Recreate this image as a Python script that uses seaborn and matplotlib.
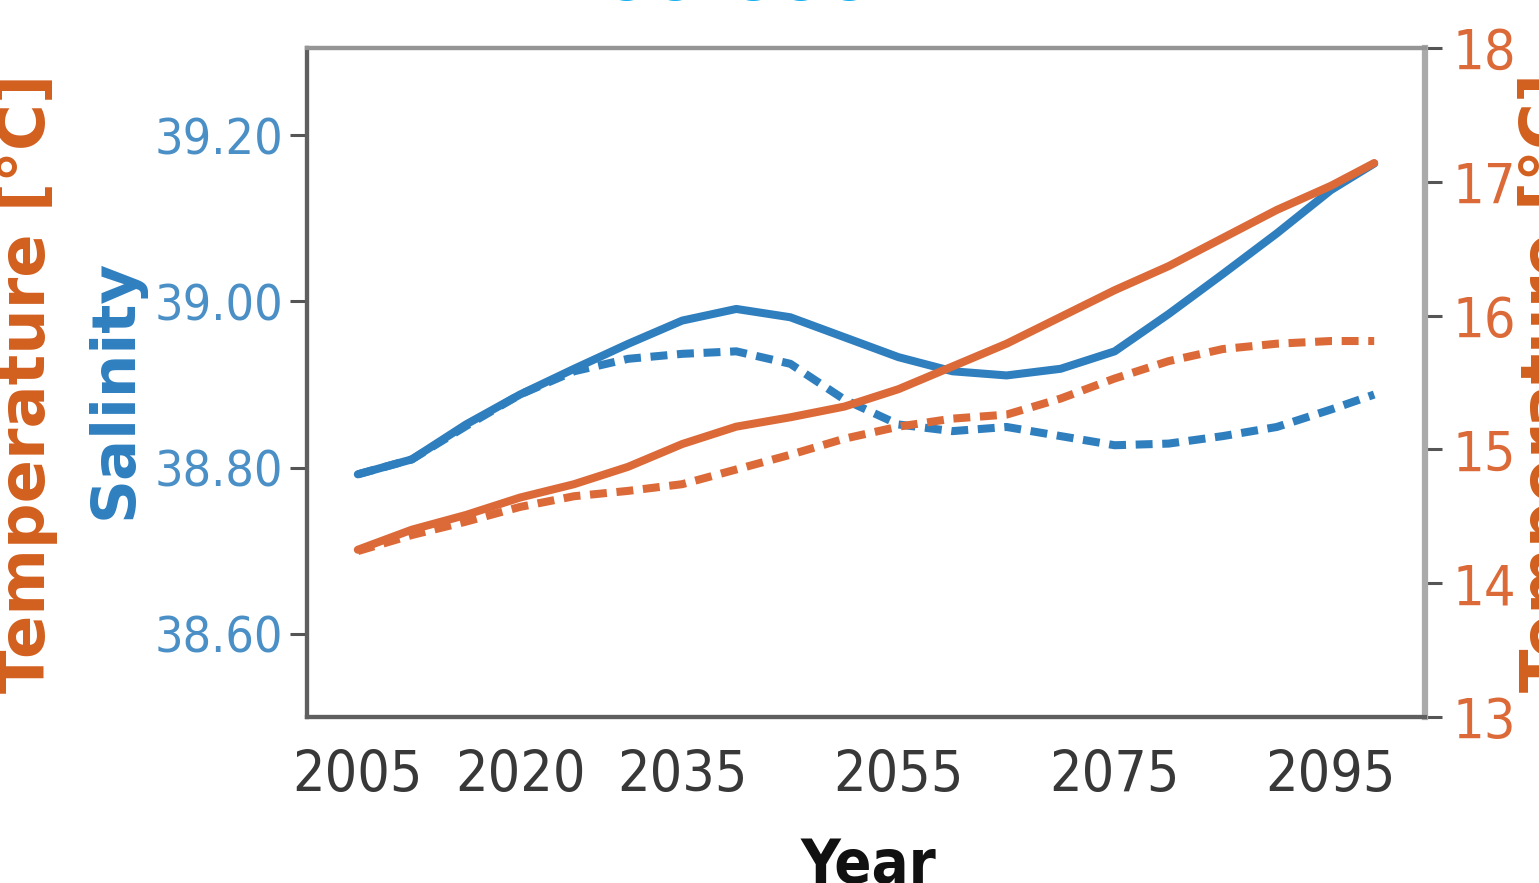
import numpy as np
import pandas as pd
import matplotlib
matplotlib.use("Agg")
import matplotlib.pyplot as plt
import seaborn as sns

# Projection years (model output, 2005-2099)
years = [2005, 2010, 2015, 2020, 2025, 2030, 2035, 2040, 2045, 2050,
         2055, 2060, 2065, 2070, 2075, 2080, 2085, 2090, 2095, 2099]

# Mean salinity, 200-600 m layer
sal_rcp85 = [38.792, 38.810, 38.852, 38.888, 38.919, 38.949, 38.977, 38.991, 38.981, 38.957,
             38.933, 38.916, 38.911, 38.919, 38.940, 38.985, 39.033, 39.082, 39.134, 39.166]
sal_rcp45 = [38.792, 38.810, 38.850, 38.888, 38.916, 38.931, 38.937, 38.940, 38.925, 38.882,
             38.852, 38.844, 38.849, 38.838, 38.827, 38.829, 38.838, 38.849, 38.870, 38.888]

# Mean temperature [°C], 200-600 m layer
temp_rcp85 = [14.25, 14.40, 14.51, 14.64, 14.74, 14.87, 15.04, 15.17, 15.24, 15.32,
              15.45, 15.62, 15.79, 15.99, 16.19, 16.37, 16.58, 16.79, 16.97, 17.14]
temp_rcp45 = [14.24, 14.36, 14.46, 14.57, 14.65, 14.69, 14.74, 14.85, 14.96, 15.08,
              15.17, 15.23, 15.26, 15.38, 15.53, 15.66, 15.75, 15.79, 15.81, 15.81]

xticks = [2005, 2020, 2035, 2055, 2075, 2095]
sal_ticks = [38.60, 38.80, 39.00, 39.20]
temp_ticks = [13, 14, 15, 16, 17, 18]

title = "200-600m"

SAL_COLOR = "#2f7fbf"
SAL_TICK = "#4a8fc6"
TEMP_COLOR = "#dc6a38"
TEMP_LABEL = "#d2601f"
TITLE_COLOR = "#12b0ee"

sns.set_style("white")
plt.rcParams["font.family"] = ["DejaVu Sans"]

W, H = 1539, 883
fig = plt.figure(figsize=(W / 100, H / 100), dpi=100)
ax = fig.add_axes([307 / W, 1 - 717 / H, (1425 - 307) / W, (717 - 48) / H])
ax2 = ax.twinx()

df = pd.DataFrame({"year": years, "sal85": sal_rcp85, "sal45": sal_rcp45,
                   "t85": temp_rcp85, "t45": temp_rcp45})

LW = 5.8
DASH = (2.1, 1.2)
sns.lineplot(data=df, x="year", y="sal85", ax=ax, color=SAL_COLOR, lw=LW)
sns.lineplot(data=df, x="year", y="sal45", ax=ax, color=SAL_COLOR, lw=LW, linestyle="--")
sns.lineplot(data=df, x="year", y="t85", ax=ax2, color=TEMP_COLOR, lw=LW)
sns.lineplot(data=df, x="year", y="t45", ax=ax2, color=TEMP_COLOR, lw=LW, linestyle="--")
for a in (ax, ax2):
    for ln in a.get_lines():
        ln.set_solid_capstyle("round")
        ln.set_solid_joinstyle("round")
        if ln.get_linestyle() == "--":
            ln.set_dashes(DASH)

ax.set_ylim(38.50, 39.305)
ax2.set_ylim(13, 18)
ax.set_xticks(xticks)
ax.set_xticklabels([str(v) for v in xticks])
ax.set_yticks(sal_ticks)
ax.set_yticklabels([f"{v:.2f}" for v in sal_ticks])
ax2.set_yticks(temp_ticks)
ax2.set_yticklabels([str(v) for v in temp_ticks])

tick_kw = dict(direction="out", length=12, width=2.2, color="#555555")
ax.tick_params(axis="x", labelsize=41, labelcolor="#383838", pad=11, **tick_kw)
ax.tick_params(axis="y", labelsize=36, labelcolor=SAL_TICK, pad=5, **tick_kw)
ax2.tick_params(axis="y", labelsize=40, labelcolor=TEMP_COLOR, pad=8, **tick_kw)
for lbl in ax.get_xticklabels() + ax.get_yticklabels() + ax2.get_yticklabels():
    lbl.set_fontstretch("condensed")

for a in (ax, ax2):
    for side, sp in a.spines.items():
        sp.set_linewidth(3)
        sp.set_color("#5f5f5f")
ax2.spines["right"].set_color("#aaaaaa")
ax2.spines["right"].set_linewidth(4.5)
ax2.spines["top"].set_color("#959595")

ax.set_xlabel("Year", fontsize=44, fontweight="bold", color="#111111",
              fontstretch="condensed")
ax.xaxis.set_label_coords(0.502, -0.180)
ax.set_ylabel("Salinity", fontsize=44, fontweight="bold", color=SAL_COLOR)
ax.yaxis.set_label_coords(-0.145, 0.49)
ax2.set_ylabel("Temperature [°C]", fontsize=46, fontweight="bold", color=TEMP_LABEL)
ax2.yaxis.set_label_coords(1.083, 0.5)

# neighbouring panel's temperature axis title, partly visible at the left edge
fig.text(27 / W, 1 - 383 / H, "Temperature [°C]", rotation=90, ha="center", va="center",
         fontsize=46, fontweight="bold", color=TEMP_LABEL)
fig.text(750 / W, 1 - 0.3 / H, title, ha="center", va="baseline",
         fontsize=50, fontweight="bold", color=TITLE_COLOR)

fig.savefig("out.png", dpi=100)
